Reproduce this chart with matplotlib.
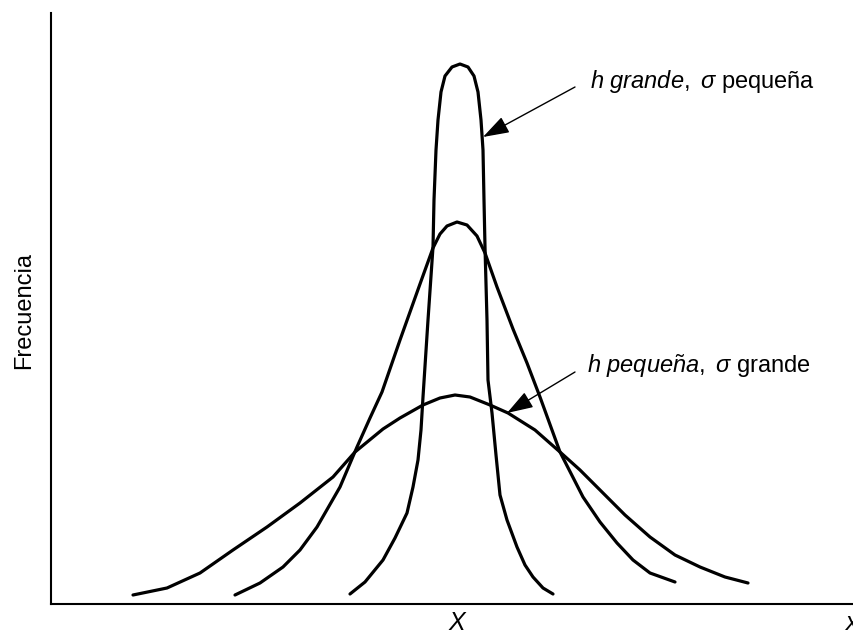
import matplotlib
matplotlib.use("Agg")
import matplotlib.pyplot as plt

plt.rcParams['font.family'] = ['Liberation Sans', 'DejaVu Sans']
plt.rcParams['mathtext.fontset'] = 'custom'
plt.rcParams['mathtext.it'] = 'Liberation Sans:italic'
plt.rcParams['mathtext.rm'] = 'Liberation Sans'

# Curve readings (x position, frequency height)
wide_x = [133, 167, 200, 233, 267, 300, 333, 355, 383, 400, 423, 440, 455, 470,
          490, 508, 535, 560, 580, 600, 625, 650, 675, 700, 725, 748]
wide_y = [9, 16, 31, 54, 77, 101, 127, 152, 175, 186, 199, 206, 209, 207,
          199, 191, 174, 152, 134, 114, 89, 67, 49, 37, 27, 21]

mid_x = [235, 260, 283, 300, 317, 340, 357, 370, 382, 400, 420, 433, 440, 447, 457,
         467, 477, 485, 497, 513, 527, 540, 560, 583, 600, 617, 633, 650, 675]
mid_y = [9, 21, 37, 54, 77, 117, 157, 186, 212, 264, 320, 356, 370, 378, 382,
         379, 368, 351, 317, 275, 241, 207, 152, 107, 82, 61, 44, 31, 22]

narrow_x = [350, 365, 383, 395, 407, 413, 418, 421, 423, 428, 433, 434, 436, 438,
            441, 445, 452, 460, 468, 474, 478, 481, 483, 484, 485, 487, 488, 492,
            496, 500, 507, 517, 525, 533, 543, 553]
narrow_y = [10, 22, 44, 66, 91, 117, 144, 174, 207, 284, 357, 404, 454, 484,
            512, 528, 537, 540, 537, 528, 512, 484, 454, 404, 357, 284, 224, 191,
            149, 109, 84, 57, 39, 27, 16, 10]

label_narrow = r"$\mathit{h\ grande,}\ \sigma$ pequeña"
label_wide = r"$\mathit{h\ peque\~na,}\ \sigma$ grande"

fig = plt.figure(figsize=(8.54, 6.37), dpi=100)
ax = fig.add_axes([51/854, 33/637, 803/854, 591/637])
ax.set_xlim(51, 854)
ax.set_ylim(0, 591)

for xs, ys in [(wide_x, wide_y), (mid_x, mid_y), (narrow_x, narrow_y)]:
    ax.plot(xs, ys, color='black', lw=2.3, solid_capstyle='round',
            solid_joinstyle='round', clip_on=False)

for s in ['top', 'right']:
    ax.spines[s].set_visible(False)
for s in ['left', 'bottom']:
    ax.spines[s].set_linewidth(1.5)
ax.set_xticks([])
ax.set_yticks([])

arrow = dict(arrowstyle='-|>,head_length=0.9,head_width=0.3', lw=1.0,
             color='black', mutation_scale=18, shrinkA=0, shrinkB=0)
ax.annotate('', xy=(483, 467), xytext=(575, 517), arrowprops=arrow)
ax.annotate('', xy=(507, 191), xytext=(575, 232), arrowprops=arrow)

ax.text(590, 516, label_narrow, fontsize=17, ha='left', va='baseline')
ax.text(587, 231, label_wide, fontsize=17, ha='left', va='baseline')

fig.text(24/854, 1 - 310/637, 'Frecuencia', rotation=90, fontsize=17,
         ha='center', va='center')
fig.text(457/854, 1 - 623/637, 'X', fontsize=18, style='italic',
         ha='center', va='center')
fig.text(846/854, 1 - 623/637, 'x', fontsize=18, style='italic',
         ha='left', va='center')

fig.savefig('out.png', dpi=100)
